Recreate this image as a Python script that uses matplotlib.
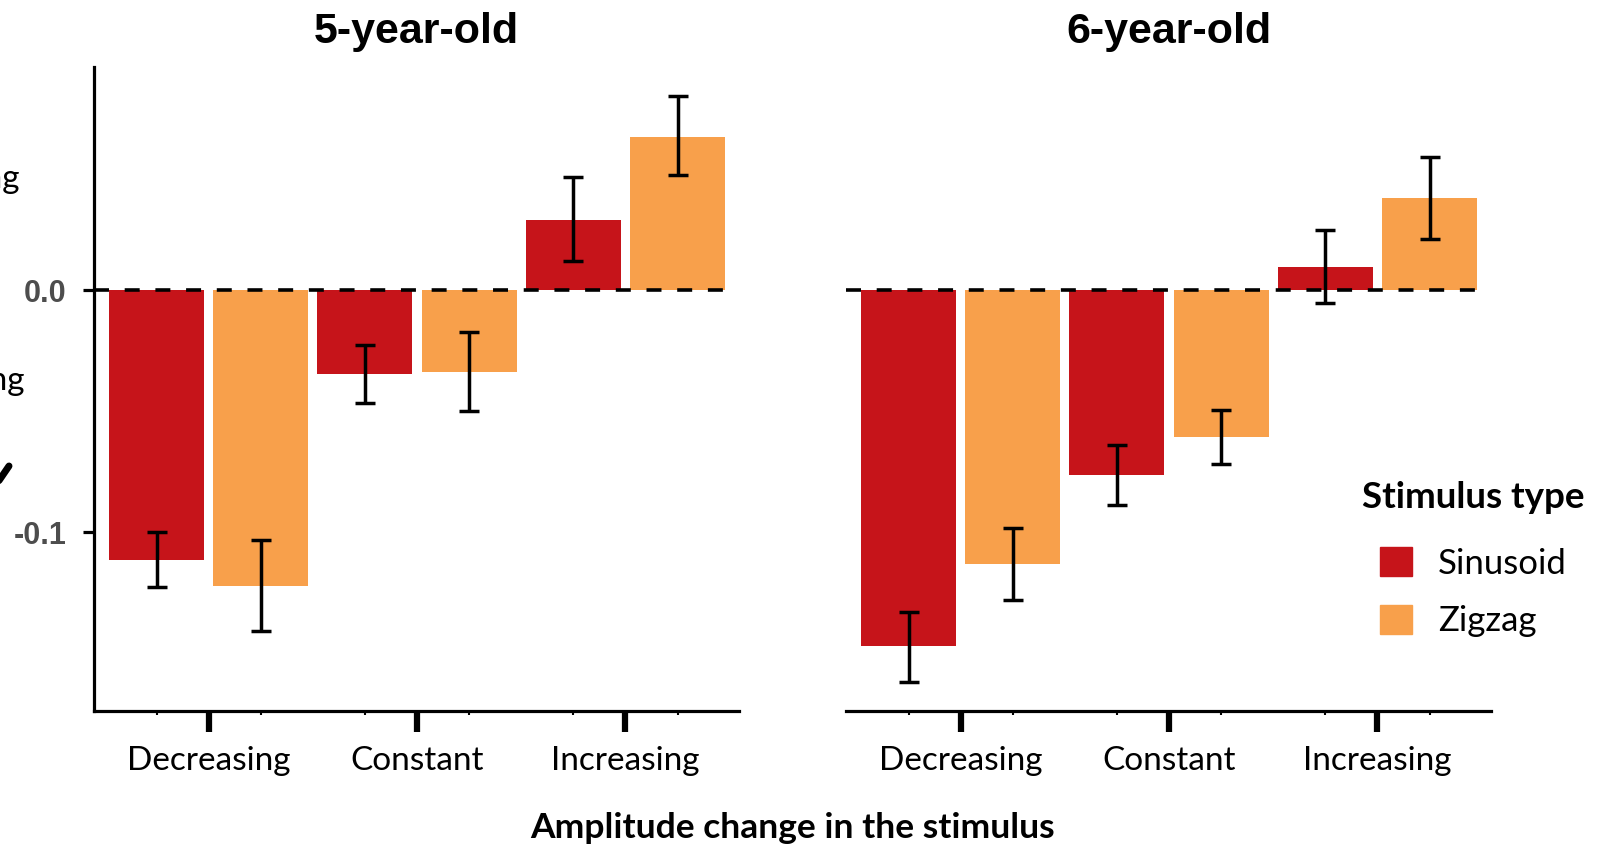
import numpy as np
import matplotlib
matplotlib.use('Agg')
import matplotlib.pyplot as plt
from matplotlib.patches import Patch
from matplotlib.lines import Line2D

categories = ['Decreasing', 'Constant', 'Increasing']
panels = ['5-year-old', '6-year-old']
series = ['Sinusoid', 'Zigzag']

# mean, lower and upper end of the error bar, per panel
sin_5 = [-0.1114, -0.0345, 0.0289]
sin_5_lo = [-0.1226, -0.0466, 0.0119]
sin_5_hi = [-0.1001, -0.0227, 0.0468]
zig_5 = [-0.1222, -0.0338, 0.0634]
zig_5_lo = [-0.1411, -0.0500, 0.0476]
zig_5_hi = [-0.1032, -0.0173, 0.0802]

sin_6 = [-0.1473, -0.0763, 0.0095]
sin_6_lo = [-0.1622, -0.0890, -0.0052]
sin_6_hi = [-0.1332, -0.0641, 0.0249]
zig_6 = [-0.1133, -0.0605, 0.0382]
zig_6_lo = [-0.1280, -0.0719, 0.0212]
zig_6_hi = [-0.0984, -0.0495, 0.0550]

ytick_vals = [-0.1, 0.0]
ytick_labels = ['-0.1', '0.0']

red = '#C6141A'
orange = '#F8A04B'
W, H = 1618, 846

fig = plt.figure(figsize=(W / 100, H / 100), dpi=100)

def box(x0, x1, y0, y1):
    return [x0 / W, 1 - y1 / H, (x1 - x0) / W, (y1 - y0) / H]

ax1 = fig.add_axes(box(94, 739, 67, 711))
ax2 = fig.add_axes(box(846, 1491, 67, 711))

data = [(sin_5, sin_5_lo, sin_5_hi, zig_5, zig_5_lo, zig_5_hi),
        (sin_6, sin_6_lo, sin_6_hi, zig_6, zig_6_lo, zig_6_hi)]

x = np.arange(len(categories))
off = 0.25
bw = 0.456

for ax, title, d in zip([ax1, ax2], panels, data):
    s, s_lo, s_hi, z, z_lo, z_hi = [np.array(v) for v in d]
    ax.bar(x - off, s, width=bw, color=red, zorder=2)
    ax.bar(x + off, z, width=bw, color=orange, zorder=2)
    ax.errorbar(x - off, s, yerr=[s - s_lo, s_hi - s], fmt='none', ecolor='black',
                elinewidth=2.5, capsize=7.5, capthick=2.5, zorder=4)
    ax.errorbar(x + off, z, yerr=[z - z_lo, z_hi - z], fmt='none', ecolor='black',
                elinewidth=2.5, capsize=7.5, capthick=2.5, zorder=4)
    ax.plot([-0.55, x[-1] + off + bw / 2], [0, 0], color='black', lw=2.6,
            dashes=(4.15, 4.35), zorder=3)
    ax.set_xlim(-0.55, 2.545)
    ax.set_ylim(-0.174, 0.0923)
    ax.set_xticks(x)
    ax.set_xticklabels(categories, fontfamily='Lato', fontsize=24)
    ax.set_xticks(np.concatenate([x - off, x + off]), minor=True)
    ax.tick_params(axis='x', which='major', length=15, width=4.5, pad=10)
    ax.tick_params(axis='x', which='minor', length=3, width=1.5)
    ax.set_title(title, fontfamily='Liberation Sans', fontweight='bold',
                 fontsize=31, pad=17)
    for sp in ['top', 'right']:
        ax.spines[sp].set_visible(False)
    ax.spines['bottom'].set_linewidth(2.3)
    ax.spines['left'].set_linewidth(2.3)

ax1.set_yticks(ytick_vals)
ax1.set_yticklabels(ytick_labels, fontfamily='Liberation Sans', fontweight='bold',
                    fontsize=22, color='#4D4D4D')
ax1.tick_params(axis='y', length=8, width=2.3, pad=12)

ax2.spines['left'].set_visible(False)
ax2.set_yticks([])

fig.text(792.5 / W, 1 - 838 / H, 'Amplitude change in the stimulus',
         fontfamily='Lato', fontweight='bold', fontsize=25.5, ha='center', va='baseline')

# y axis label, cut off by the left edge of the figure
fig.text(19 / W, 1 - 188 / H, 'Increasing', fontfamily='Lato', fontsize=24,
         ha='right', va='baseline')
fig.text(25 / W, 1 - 390 / H, 'Decreasing', fontfamily='Lato', fontsize=24,
         ha='right', va='baseline')
fig.add_artist(Line2D([-4 / W, 9 / W], [1 - 485 / H, 1 - 466 / H], color='black',
                      lw=5, solid_capstyle='round'))

# legend
fig.text(1362 / W, 1 - 498 / H, 'Stimulus type', fontfamily='Lato',
         fontweight='bold', fontsize=26.5, ha='left', va='center')
handles = [Patch(color=red), Patch(color=orange)]
fig.legend(handles, series, loc='upper left', bbox_to_anchor=(1380 / W, 1 - 547 / H),
           frameon=False, borderpad=0, borderaxespad=0,
           prop={'family': 'Lato', 'size': 25},
           handlelength=0.92, handleheight=0.92, handletextpad=0.75,
           labelspacing=0.72)

fig.savefig('out.png', dpi=100)
